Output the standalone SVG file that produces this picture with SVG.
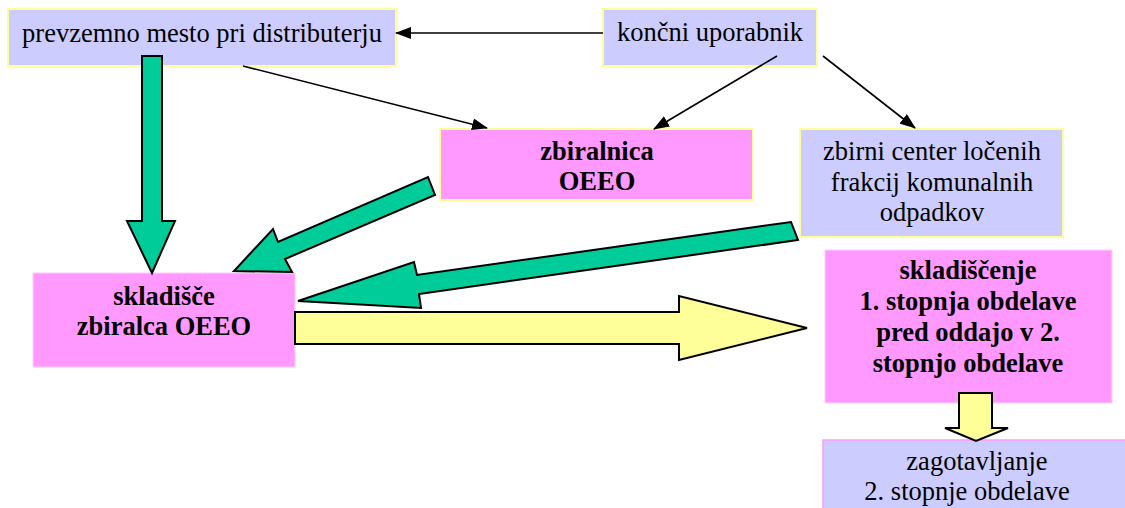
<svg xmlns="http://www.w3.org/2000/svg" width="1125" height="508" viewBox="0 0 1125 508">
  <defs>
    <marker id="tip" markerWidth="16" markerHeight="12" refX="15" refY="6" orient="auto" markerUnits="userSpaceOnUse">
      <path d="M0,0 L16,6 L0,12 Z" fill="#000"/>
    </marker>
    <style>
      .lav { fill: #ccccff; stroke: #ffff99; stroke-width: 2; }
      .pink { fill: #ff99ff; stroke: #ffff99; stroke-width: 2; }
      .pink2 { fill: #ff99ff; stroke: #ffccff; stroke-width: 1; }
      .lav2 { fill: #ccccff; stroke: #ff99ff; stroke-width: 1.5; }
      .t { font-family: "Liberation Serif", "Times New Roman", serif; font-size: 26.5px; fill: #000; text-anchor: middle; }
      .b { font-weight: bold; }
      .line { stroke: #000; stroke-width: 1.6; fill: none; marker-end: url(#tip); }
      .green { fill: #00cc99; stroke: #000; stroke-width: 2; stroke-linejoin: miter; }
      .yellow { fill: #ffff99; stroke: #000; stroke-width: 2; stroke-linejoin: miter; }
    </style>
  </defs>

  <g id="prevzemno">
    <rect class="lav" x="8" y="9" width="388" height="57"/>
    <text class="t" x="202" y="42">prevzemno mesto pri distributerju</text>
  </g>

  <g id="koncni">
    <rect class="lav" x="603" y="9" width="214" height="57"/>
    <text class="t" x="710" y="41">končni uporabnik</text>
  </g>

  <g id="zbiralnica">
    <rect class="pink" x="440" y="129" width="313" height="71"/>
    <text class="t b" x="597" y="160">zbiralnica</text>
    <text class="t b" x="597" y="190">OEEO</text>
  </g>

  <g id="zbirni-center">
    <rect class="lav" x="800" y="129" width="263" height="108"/>
    <text class="t" x="932" y="160">zbirni center ločenih</text>
    <text class="t" x="932" y="191">frakcij komunalnih</text>
    <text class="t" x="932" y="221">odpadkov</text>
  </g>

  <g id="skladisce">
    <rect class="pink2" x="33" y="273" width="262" height="94"/>
    <text class="t b" x="164" y="305">skladišče</text>
    <text class="t b" x="164" y="335">zbiralca OEEO</text>
  </g>

  <g id="skladiscenje">
    <rect class="pink2" x="825" y="250" width="287" height="153"/>
    <text class="t b" x="968" y="279">skladiščenje</text>
    <text class="t b" x="968" y="310">1. stopnja obdelave</text>
    <text class="t b" x="968" y="341">pred oddajo v 2.</text>
    <text class="t b" x="968" y="372">stopnjo obdelave</text>
  </g>

  <g id="zagotavljanje">
    <rect class="lav2" x="823" y="440" width="310" height="80"/>
    <text class="t" x="977" y="470">zagotavljanje</text>
    <text class="t" x="967" y="500">2. stopnje obdelave</text>
  </g>

  <g id="connectors">
    <line class="line" x1="603" y1="33" x2="396" y2="33"/>
    <line class="line" x1="243" y1="66" x2="487" y2="128"/>
    <line class="line" x1="777" y1="56" x2="654" y2="129"/>
    <line class="line" x1="823" y1="56" x2="915" y2="128"/>

    <!-- block arrows -->
    <polygon class="green" points="142,56 162,56 162,221 175,221 152,273 127,221 142,221"/>
    <polygon class="green" points="428,177 435,195 285,259 292,272 234,271 273,229 278,242"/>
    <polygon class="green" points="791,222 798,240 419,294 421,308 298,301 414,262 417,275"/>
    <polygon class="yellow" points="295,312 679,312 679,296 807,328 679,360 679,344 295,344"/>
    <polygon class="yellow" points="959,393 992,393 992,428 1008,428 976,441 945,428 959,428"/>
  </g>
</svg>
